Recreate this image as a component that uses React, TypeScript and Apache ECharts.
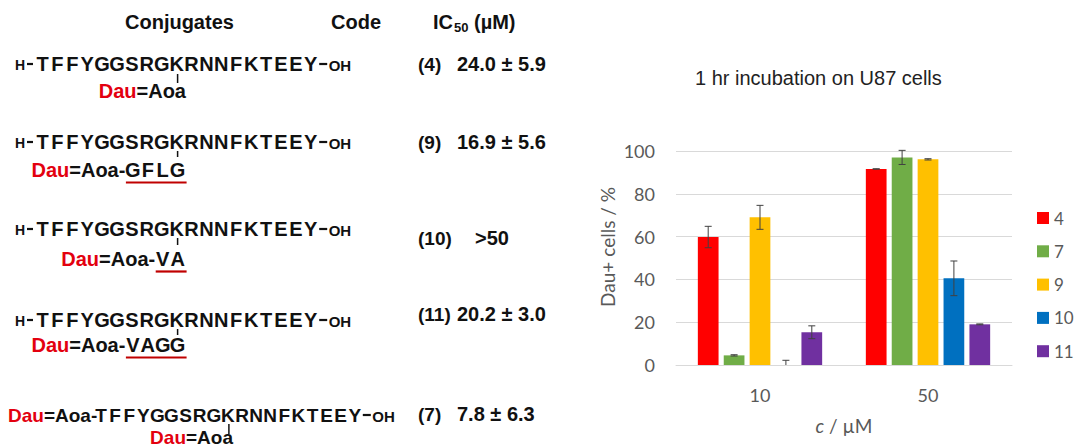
import React, { useEffect, useRef } from 'react';
import * as echarts from 'echarts';

// ---------- chart data ----------
const CATEGORIES = ['10', '50'];
const SERIES_NAMES = ['4', '7', '9', '10', '11'];
const SERIES_COLORS = ['#FF0000', '#70AD47', '#FFC000', '#0070C0', '#7030A0'];
const VALUES_4 = [59.8, 91.6];
const VALUES_7 = [4.5, 97.0];
const VALUES_9 = [69.0, 96.1];
const VALUES_10 = [0, 40.5];
const VALUES_11 = [15.3, 19.0];
const ERRORS_4 = [5.0, 0.1];
const ERRORS_7 = [0.3, 3.3];
const ERRORS_9 = [5.6, 0.3];
const ERRORS_10 = [2.2, 8.1];
const ERRORS_11 = [3.0, 0.2];
const Y_MIN = 0;
const Y_MAX = 100;
const Y_INTERVAL = 20;

// ---------- left-hand table ----------
const SEQUENCE = 'TFFYGGSRGKRNNFKTEEY';
const HEADERS = ['Conjugates', 'Code'];
const CODES = ['(4)', '(9)', '(10)', '(11)', '(7)'];
const IC50_VALUES = ['24.0 ± 5.9', '16.9 ± 5.6', '>50', '20.2 ± 3.0', '7.8 ± 6.3'];
const LINKERS = ['', 'GFLG', 'VA', 'VAGG'];

const VALUES = [VALUES_4, VALUES_7, VALUES_9, VALUES_10, VALUES_11];
const ERRORS = [ERRORS_4, ERRORS_7, ERRORS_9, ERRORS_10, ERRORS_11];

const ARIAL = '"Liberation Sans", Arial, sans-serif';
const CHART_FONT = 'Lato, "Open Sans", sans-serif';
const RED = '#E3000F';
const UNDER_RED = '#C00000';
const INK = '#111111';
const CAT_GAP = 0.26;
const BAR_GAP = 0.25;

function txt(x: number, y: number, text: string, o: any = {}) {
  const size = o.size ?? 19;
  const weight = o.weight ?? 'bold';
  const family = o.family ?? ARIAL;
  const align = o.align ?? 'left';
  return {
    type: 'text',
    x,
    y,
    silent: true,
    rotation: o.rotation ?? 0,
    style: {
      text,
      fill: o.fill ?? INK,
      font: `${o.italic ? 'italic ' : ''}${weight} ${size}px ${family}`,
      align,
      textAlign: align,
      verticalAlign: 'middle',
      textVerticalAlign: 'middle',
      rich: o.rich,
    },
  };
}

function vline(x: number, y1: number, y2: number, color = INK, w = 1.5) {
  return { type: 'line', silent: true, shape: { x1: x, y1, x2: x, y2 }, style: { stroke: color, lineWidth: w } };
}
function hline(x1: number, x2: number, y: number, color = UNDER_RED, w = 2.2) {
  return { type: 'line', silent: true, shape: { x1, y1: y, x2, y2: y }, style: { stroke: color, lineWidth: w } };
}
function dash(xc: number, y: number, w = 7) {
  return { type: 'line', silent: true, shape: { x1: xc - w / 2, y1: y, x2: xc + w / 2, y2: y }, style: { stroke: INK, lineWidth: 2.2 } };
}

function seqChars(startX: number, pitch: number, y: number, size: number, chars: string) {
  return chars.split('').map((c, i) => txt(startX + i * pitch, y, c, { size, align: 'center' }));
}

function daujText(x: number, y: number, text: string, size: number, align: string) {
  return txt(x, y, text, {
    size,
    align,
    rich: { r: { fill: RED, font: `bold ${size}px ${ARIAL}` } },
  });
}

function buildLeft() {
  const els: any[] = [];
  // headers
  els.push(txt(125, 22, HEADERS[0], { size: 20 }));
  els.push(txt(331, 22, HEADERS[1], { size: 20 }));
  els.push(txt(433, 22, 'IC', { size: 20 }));
  els.push(txt(454, 27, '50', { size: 13 }));
  els.push(txt(474, 22, '(µM)', { size: 20 }));

  const pitch = 14.9;
  const t0 = 42.5;
  const kX = t0 + 9 * pitch;
  const lastY = t0 + 18 * pitch;
  const seqY = [64, 142, 229, 320];
  const codeY = [64, 142, 238, 314];
  const dauY = [91, 170, 259, 345];
  const tickY = [[74, 83], [151, 157], [238, 245], [329, 335]];
  for (let r = 0; r < 4; r++) {
    const y = seqY[r];
    els.push(txt(15, y + 1, 'H', { size: 14 }));
    els.push(dash(30, y, 6));
    els.push(...seqChars(t0, pitch, y, 20, SEQUENCE));
    els.push(dash(lastY + 12.5, y, 8));
    els.push(txt(lastY + 18, y + 1, 'OH', { size: 15 }));
    els.push(vline(kX + 1, tickY[r][0], tickY[r][1]));
    const link = LINKERS[r];
    const dy = dauY[r];
    if (!link) {
      els.push(daujText(186, dy, '{r|Dau}=Aoa', 20, 'right'));
    } else {
      const n = link.length;
      const lastC = kX + 1;
      const firstC = lastC - (n - 1) * pitch;
      els.push(...seqChars(firstC, pitch, dy, 20, link));
      els.push(daujText(firstC - 7.5, dy, '{r|Dau}=Aoa-', 20, 'right'));
      els.push(hline(firstC - 7, lastC + 9, dy + 12.5));
    }
    els.push(txt(418, codeY[r], CODES[r], { size: 19 }));
    els.push(txt(r === 2 ? 475 : 457, codeY[r], IC50_VALUES[r], { size: 20 }));
  }

  // row 5
  const y5 = 415;
  const p5 = 14.1;
  const s5 = 101;
  const k5 = s5 + 9 * p5;
  const l5 = s5 + 18 * p5;
  els.push(daujText(8, y5, '{r|Dau}=Aoa-', 19, 'left'));
  els.push(...seqChars(s5, p5, y5, 19, SEQUENCE));
  els.push(dash(l5 + 12, y5, 8));
  els.push(txt(l5 + 17.5, y5 + 1, 'OH', { size: 15 }));
  els.push(vline(k5 + 1, 424, 434));
  els.push(daujText(233, 437, '{r|Dau}=Aoa', 19, 'right'));
  els.push(txt(418, 414, CODES[4], { size: 19 }));
  els.push(txt(457, 414, IC50_VALUES[4], { size: 20 }));
  return els;
}

function errorSeries(k: number) {
  const n = SERIES_NAMES.length;
  return {
    type: 'custom',
    name: 'err-' + SERIES_NAMES[k],
    z: 10,
    silent: true,
    data: CATEGORIES.map((_, i) => [i, VALUES[k][i], ERRORS[k][i]]),
    encode: { x: 0, y: 1 },
    renderItem: (params: any, api: any) => {
      const ci = api.value(0);
      const v = api.value(1);
      const e = api.value(2);
      const band = api.size([1, 0])[0];
      const groupW = band * (1 - CAT_GAP);
      const bw = groupW / (n + (n - 1) * BAR_GAP);
      const cx = api.coord([ci, v])[0] - groupW / 2 + bw / 2 + k * bw * (1 + BAR_GAP);
      const yTop = api.coord([ci, v + e])[1];
      const lo = v - e;
      const yBot = api.coord([ci, Math.max(0, lo)])[1];
      const st = { stroke: '#404040', lineWidth: 1 };
      const children: any[] = [
        { type: 'line', shape: { x1: cx, y1: yTop, x2: cx, y2: yBot }, style: st },
        { type: 'line', shape: { x1: cx - 3.5, y1: yTop, x2: cx + 3.5, y2: yTop }, style: st },
      ];
      if (lo >= 0) {
        children.push({ type: 'line', shape: { x1: cx - 3.5, y1: yBot, x2: cx + 3.5, y2: yBot }, style: st });
      }
      return { type: 'group', children };
    },
  };
}

export default function App() {
  const ref = useRef<HTMLDivElement>(null);
  useEffect(() => {
    document.body.style.margin = '0';
    if (!ref.current) return;
    const chart = echarts.init(ref.current, undefined, { renderer: 'svg' });
    const bars = SERIES_NAMES.map((name, k) => ({
      type: 'bar',
      name,
      data: VALUES[k],
      itemStyle: { color: SERIES_COLORS[k] },
      barCategoryGap: `${CAT_GAP * 100}%`,
      barGap: `${BAR_GAP * 100}%`,
    }));
    const option: any = {
      animation: false,
      backgroundColor: '#ffffff',
      grid: { left: 676, right: 62, top: 151, bottom: 82, containLabel: false },
      legend: {
        data: SERIES_NAMES,
        orient: 'vertical',
        left: 1032,
        top: 203,
        icon: 'rect',
        itemWidth: 12,
        itemHeight: 12,
        itemGap: 13.3,
        textStyle: { color: '#595959', fontSize: 17, fontFamily: CHART_FONT, lineHeight: 20 },
        selectedMode: false,
      },
      xAxis: {
        type: 'category',
        data: CATEGORIES,
        axisLine: { lineStyle: { color: '#D9D9D9', width: 1 } },
        axisTick: { show: false },
        axisLabel: { color: '#595959', fontSize: 18, fontFamily: CHART_FONT, margin: 21 },
      },
      yAxis: {
        type: 'value',
        min: Y_MIN,
        max: Y_MAX,
        interval: Y_INTERVAL,
        axisLine: { show: false },
        axisTick: { show: false },
        splitLine: { lineStyle: { color: '#D9D9D9', width: 1 } },
        axisLabel: { color: '#595959', fontSize: 18, fontFamily: CHART_FONT, margin: 21 },
      },
      series: [...bars, ...SERIES_NAMES.map((_, k) => errorSeries(k))],
      graphic: [
        ...buildLeft(),
        txt(695, 78, '1 hr incubation on U87 cells', { size: 20, weight: 'normal', fill: '#222222' }),
        txt(607, 247, 'Dau+ cells / %', {
          size: 19,
          weight: 'normal',
          family: CHART_FONT,
          fill: '#595959',
          align: 'center',
          rotation: Math.PI / 2,
        }),
        txt(844, 425, '{i|c} / µM', {
          size: 19,
          weight: 'normal',
          family: CHART_FONT,
          fill: '#595959',
          align: 'center',
          rich: { i: { font: `italic normal 19px ${CHART_FONT}`, fill: '#595959' } },
        }),
      ],
    };
    chart.setOption(option);
    return () => chart.dispose();
  }, []);
  return <div ref={ref} style={{ width: 1074, height: 447 }} />;
}
